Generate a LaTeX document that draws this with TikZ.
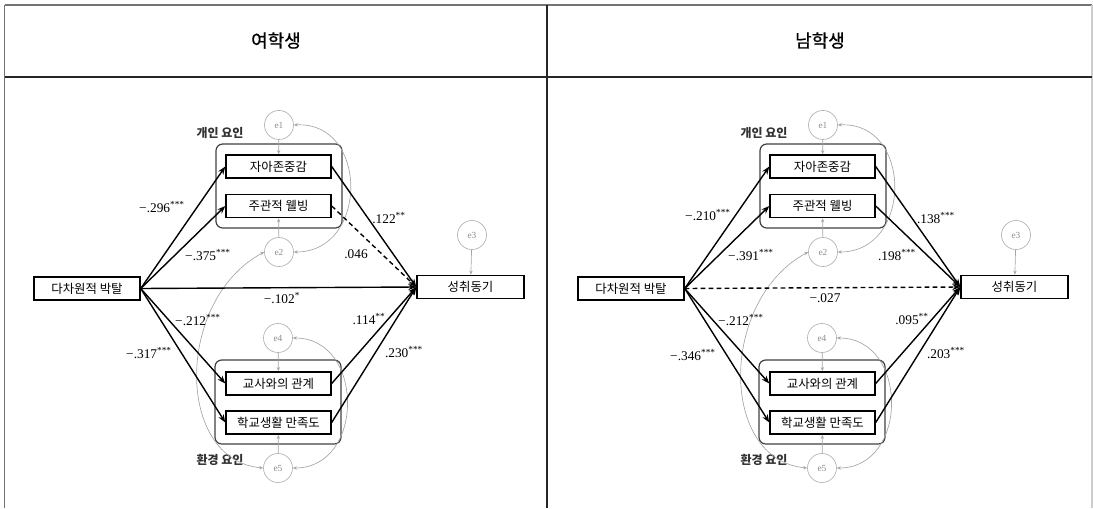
\documentclass[tikz,border=0pt]{standalone}
\usepackage{fontspec}
\setmainfont{Liberation Serif}
\newfontfamily\kr{Noto Sans CJK KR}
\newfontfamily\krh{Noto Sans CJK KR}[FakeBold=0.7]
\usetikzlibrary{arrows.meta}

\newcommand\mypanel[4]{%
\begin{scope}[xshift={#2*0.75pt}]
  \node[box, minimum width=79.5pt] (#1X) at (87,288.5) {다차원적 박탈};
  \node[box] (#1M1) at (278.5,166.5) {자아존중감};
  \node[box] (#1M2) at (278.5,206) {주관적 웰빙};
  \node[box] (#1M3) at (278.5,383.5) {교사와의 관계};
  \node[box] (#1M4) at (278.5,422.5) {학교생활 만족도};
  \node[box, minimum width=80.25pt] (#1Y) at (470.5,287) {성취동기};
  \node[grp] (#1G1) at (279,186) {};
  \node[grp] (#1G2) at (278,402) {};
  \node[glabel] (#1L1) at (220,133) {개인 요인};
  \node[glabel] (#1L2) at (220,460) {환경 요인};
  \node[err] (#1e1) at (279,125) {e1};
  \node[err] (#1e2) at (279,252) {e2};
  \node[err] (#1e3) at (472,235) {e3};
  \node[err] (#1e4) at (278,338) {e4};
  \node[err] (#1e5) at (278,468) {e5};
  % error arrows
  \draw[errarr] (#1e1) -- (#1M1);
  \draw[errarr] (#1e2) -- (#1M2);
  \draw[errarr] (#1e3) -- (#1Y);
  \draw[errarr] (#1e4) -- (#1M3);
  \draw[errarr] (#1e5) -- (#1M4);
  % covariances
  \draw[cov] (#1e1.east) .. controls (369,121) and (369,252) .. (#1e2.east);
  \draw[cov] (#1e4.east) .. controls (365,338) and (365,468) .. (#1e5.east);
  \draw[cov] (#1e2.west) .. controls (175,300) and (175,460) .. (#1e5.west);
  % paths
  \draw[pth] (#1X.east) -- (#1M1.west);
  \draw[pth] (#1X.east) -- (#1M2.west);
  \draw[pth] (#1X.east) -- (#1M3.west);
  \draw[pth] (#1X.east) -- (#1M4.west);
  \draw[pth,#3] (#1X.east) -- (#1Y.west);
  \draw[pth] (#1M1.east) -- (#1Y.west);
  \draw[pth,#4] (#1M2.east) -- (#1Y.west);
  \draw[pth] (#1M3.east) -- (#1Y.west);
  \draw[pth] (#1M4.east) -- (#1Y.west);
\end{scope}}

\begin{document}
\begin{tikzpicture}[x=0.75pt,y=-0.75pt,
  box/.style={draw=black, line width=1.05pt, minimum width=78.75pt, minimum height=17.5pt, inner sep=0pt, font=\kr\fontsize{9.3}{11}\selectfont},
  err/.style={circle, draw=black!30, line width=0.5pt, minimum size=21.75pt, inner sep=0pt, text=black!45, font=\fontsize{7}{8}\selectfont},
  grp/.style={draw=black!75, line width=0.9pt, rounded corners=5pt, minimum width=94.5pt, minimum height=63pt, inner sep=0pt},
  glabel/.style={font=\kr\bfseries\fontsize{9}{11}\selectfont, text=black!80, inner sep=0pt},
  pth/.style={draw=black, line width=1.05pt, -{Stealth[length=6pt,width=4.5pt]}},
  errarr/.style={draw=black!35, line width=0.5pt, -{Stealth[length=3pt,width=2.5pt]}},
  cov/.style={draw=black!35, line width=0.5pt, {Stealth[length=3pt,width=2.5pt]}-{Stealth[length=3pt,width=2.5pt]}},
  coef/.style={font=\fontsize{10}{12}\selectfont, inner sep=0pt},
  dsh/.style={dash pattern=on 3.5pt off 2.5pt},
  sld/.style={},
  head/.style={font=\krh\fontsize{13.5}{15}\selectfont}
]
\useasboundingbox (0,0) rectangle (1093,508);
% table frame
\coordinate (tl) at (4.5,5);
\coordinate (tr) at (1092,5);
\coordinate (bl) at (4.5,508);
\coordinate (br) at (1092,508);
\coordinate (hl) at (4.5,77);
\coordinate (hr) at (1092,77);
\coordinate (dt) at (547,5);
\coordinate (db) at (547,508);
\draw[black!55, line width=1.3pt] (tl) -- (tr);
\draw[black!55, line width=1pt] (tl) -- (bl);
\draw[black!20, line width=0.8pt] (tr) -- (br);
\draw[black!85, line width=0.9pt] (hl) -- (hr);
\draw[black!85, line width=0.9pt] (dt) -- (db);
\node[head] (h1) at (276,40.5) {여학생};
\node[head] (h2) at (820,40.5) {남학생};

\mypanel{L}{0}{sld}{dsh}
\mypanel{R}{544}{dsh}{sld}

% left coefficients
\node[coef] (l1) at (162,207) {−.296\textsuperscript{***}};
\node[coef] (l2) at (208,255) {−.375\textsuperscript{***}};
\node[coef] (l3) at (198,320) {−.212\textsuperscript{***}};
\node[coef] (l4) at (149,353) {−.317\textsuperscript{***}};
\node[coef] (l5) at (389,218) {.122\textsuperscript{**}};
\node[coef] (l6) at (356,254) {.046};
\node[coef] (l7) at (282,298) {−.102\textsuperscript{*}};
\node[coef] (l8) at (369,319) {.114\textsuperscript{**}};
\node[coef] (l9) at (404,352) {.230\textsuperscript{***}};
% right coefficients
\node[coef] (r1) at (708,215) {−.210\textsuperscript{***}};
\node[coef] (r2) at (751,255) {−.391\textsuperscript{***}};
\node[coef] (r3) at (741,320) {−.212\textsuperscript{***}};
\node[coef] (r4) at (693,355) {−.346\textsuperscript{***}};
\node[coef] (r5) at (936,218) {.138\textsuperscript{***}};
\node[coef] (r6) at (897,255) {.198\textsuperscript{***}};
\node[coef] (r7) at (825,298) {−.027};
\node[coef] (r8) at (912,319) {.095\textsuperscript{**}};
\node[coef] (r9) at (946,353) {.203\textsuperscript{***}};
\end{tikzpicture}
\end{document}
